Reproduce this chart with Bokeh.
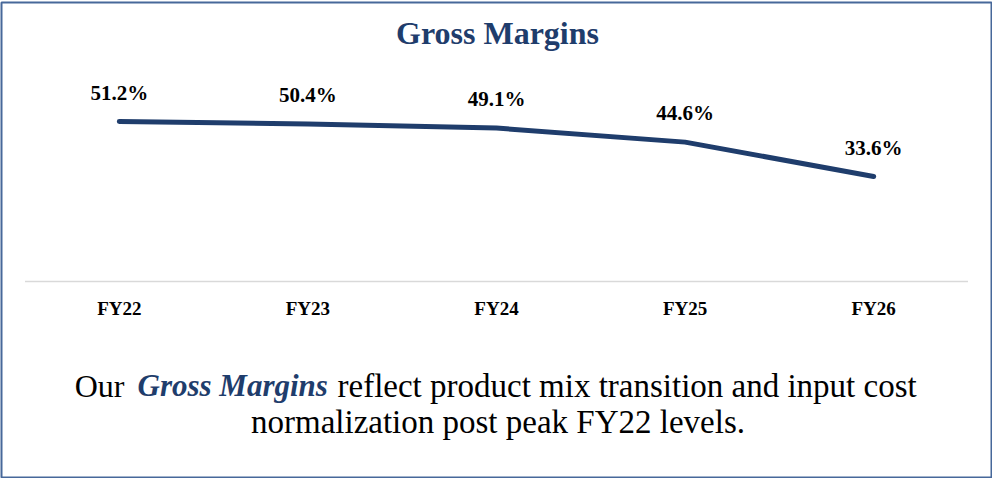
from bokeh.plotting import figure
from bokeh.models import ColumnDataSource, FactorRange, Range1d, Label
from bokeh.core.properties import value
from bokeh.embed import file_html
from bokeh.resources import INLINE

# ---- data ----
years = ["FY22", "FY23", "FY24", "FY25", "FY26"]
gross_margin = [51.2, 50.4, 49.1, 44.6, 33.6]
margin_labels = [f"{v:.1f}%" for v in gross_margin]

title_text = "Gross Margins"
caption_pre = "Our"
caption_em = "Gross Margins"
caption_post = "reflect product mix transition and input cost"
caption_line2 = "normalization post peak FY22 levels."

NAVY = "#1F3D6C"
FONT = "Liberation Serif"

src = ColumnDataSource(dict(x=years, y=gross_margin, lab=margin_labels))
axis_src = ColumnDataSource(dict(x=years, y=[0] * len(years), lab=years))

# frame = whole bordered box; y: 0 sits on the category line
p = figure(
    x_range=FactorRange(*years, range_padding=0.0499),
    y_range=Range1d(-62.72, 89.28),
    width=992, height=478,
    output_backend="svg", toolbar_location=None,
    x_axis_location=None, y_axis_location=None,
    min_border_left=1, min_border_right=1,
    min_border_top=2, min_border_bottom=1,
)
p.outline_line_color = "#47689A"
p.outline_line_width = 2
p.background_fill_color = "white"
p.border_fill_color = "white"
p.xgrid.visible = False
p.ygrid.visible = False

# category baseline
p.segment(x0=[0], x1=[len(years)], y0=[0], y1=[0], line_color="#D9D9D9", line_width=1.5)

# category labels
p.text("x", "y", text="lab", source=axis_src, text_font=value(FONT), text_font_style="bold",
       text_font_size="19px", text_color="#000000", text_align="center",
       text_baseline="alphabetic", y_offset=27)

# the line
p.line("x", "y", source=src, line_color=NAVY, line_width=5, line_cap="round", line_join="round")
p.text("x", "y", text="lab", source=src, text_font=value(FONT), text_font_style="bold",
       text_font_size="21px", text_color="#000000", text_align="center",
       text_baseline="alphabetic", y_offset=-29)

# texts (screen units: from frame left / frame bottom)
def lab(cx, cy, text, size, style="normal", color="#000000", align="left"):
    p.add_layout(Label(x=cx - 1, y=477 - cy, x_units="screen", y_units="screen", text=text,
                       text_font=FONT, text_font_style=style, text_font_size=size,
                       text_color=color, text_align=align, text_baseline="alphabetic"))

lab(497, 32, title_text, "32px", "bold", NAVY, "center")
lab(124, 385, caption_pre, "32px", "normal", "#000000", "right")
lab(137, 385, caption_em, "31px", "bold italic", NAVY, "left")
lab(337, 385, caption_post, "33px", "normal", "#000000", "left")
lab(497.5, 421, caption_line2, "33px", "normal", "#000000", "center")

open("out.html", "w").write(file_html(p, INLINE))
